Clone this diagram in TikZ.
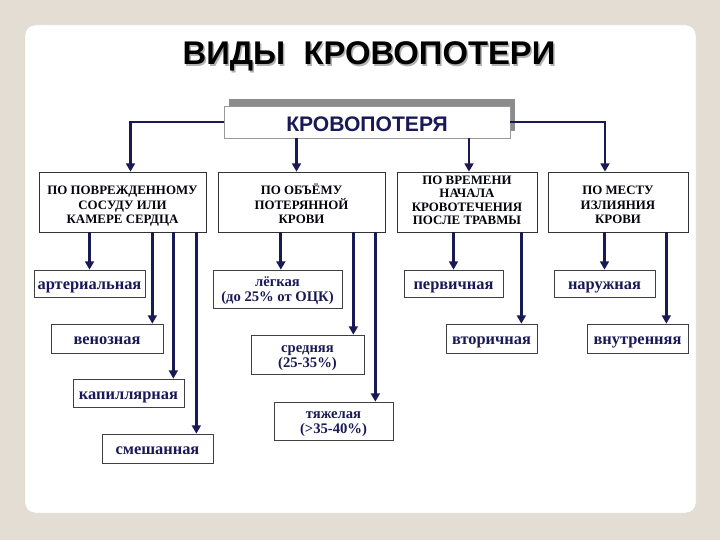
\documentclass[tikz,border=0pt]{standalone}
\usepackage{fontspec}
\setmainfont{Liberation Serif}
\setsansfont{Liberation Sans}
\usepackage{tikz}
\usetikzlibrary{arrows.meta,shadows}
\definecolor{navy}{RGB}{25,25,85}
\definecolor{beige}{RGB}{227,221,211}
\tikzset{
  heading/.style={font=\fontsize{11}{12.4}\selectfont\bfseries, text=black!85!navy,
    draw=black!80, line width=0.6pt, fill=white, inner sep=0pt,
    minimum height=1.8cm, align=center, text height=37pt, text depth=0pt},
  kind/.style={font=\fontsize{14}{15}\selectfont\bfseries, text=navy,
    draw=black!75, line width=0.6pt, fill=white, inner sep=0pt,
    text height=11pt, text depth=0pt},
  share/.style={kind, font=\fontsize{12.5}{13}\selectfont\bfseries, align=center,
    text height=22pt},
  link/.style={draw=navy, line width=2.3pt, -{Triangle[length=7pt,width=7.5pt]}}
}

\begin{document}
\begin{tikzpicture}[x=0.03cm, y=-0.03cm]

		% Slide
		\fill[beige] (0,0) rectangle (720,540);
		\useasboundingbox (0,0) rectangle (720,540);
		\draw[black!12, line width=0.8pt] (32,517) -- (690,517);
		\filldraw[fill=white, draw=black!15, rounded corners=0.3cm] (25,25) rectangle (696,513);

		% Title
		\node[anchor=base, text=black!30, font=\sffamily\bfseries\fontsize{28}{32}\selectfont]
      (title-shadow) at (370.5,66.5) {ВИДЫ~~КРОВОПОТЕРИ};
		\node[anchor=base, font=\sffamily\bfseries\fontsize{28}{32}\selectfont]
      (title) at (369,65) {ВИДЫ~~КРОВОПОТЕРИ};

		% Root
		\node[draw=black!40, fill=white, line width=0.6pt, inner sep=0pt,
      minimum width=8.58cm, minimum height=0.96cm, text height=17pt, text depth=0pt,
      drop shadow={shadow xshift=0.15cm, shadow yshift=0.2cm, fill=black!45, opacity=1},
      text=navy, font=\sffamily\bfseries\fontsize{18}{20}\selectfont]
      (main) at (367,122) {КРОВОПОТЕРЯ};

		% Headings
		\node[heading, minimum width=5.01cm] (b1) at (122.5,202)
      {ПО ПОВРЕЖДЕННОМУ\\СОСУДУ ИЛИ\\КАМЕРЕ СЕРДЦА};
		\node[heading, minimum width=5.01cm] (b2) at (301.5,202)
      {ПО ОБЪЁМУ\\ПОТЕРЯННОЙ\\КРОВИ};
		\node[heading, minimum width=4.2cm, font=\fontsize{11}{11.5}\selectfont\bfseries,
      text height=39pt] (b3) at (467,202)
      {ПО ВРЕМЕНИ\\НАЧАЛА\\КРОВОТЕЧЕНИЯ\\ПОСЛЕ ТРАВМЫ};
		\node[heading, minimum width=4.2cm] (b4) at (618,202)
      {ПО МЕСТУ\\ИЗЛИЯНИЯ\\КРОВИ};

		% Kinds by vessel
		\node[kind, minimum width=3.33cm, minimum height=0.81cm] (art) at (89.5,283.5) {артериальная};
		\node[kind, minimum width=3.36cm, minimum height=0.87cm] (ven) at (107,338.5) {венозная};
		\node[kind, minimum width=3.33cm, minimum height=0.84cm] (cap) at (128.5,393) {капиллярная};
		\node[kind, minimum width=3.33cm, minimum height=0.87cm] (mix) at (157.5,448.5) {смешанная};

		% Kinds by volume
		\node[share, minimum width=3.87cm, minimum height=1.14cm] (mild) at (277.5,289)
      {лёгкая\\(до 25\% от ОЦК)};
		\node[share, minimum width=3.39cm, minimum height=1.17cm] (medium) at (307.5,354.5)
      {средняя\\(25-35\%)};
		\node[share, minimum width=3.57cm, minimum height=1.14cm] (severe) at (333.5,421)
      {тяжелая\\(>35-40\%)};

		% Kinds by time
		\node[kind, minimum width=2.97cm, minimum height=0.81cm] (primary) at (453.5,283.5) {первичная};
		\node[kind, minimum width=2.73cm, minimum height=0.87cm] (secondary) at (491.5,338.5) {вторичная};

		% Kinds by place
		\node[kind, minimum width=3.03cm, minimum height=0.81cm] (outer) at (604.5,283.5) {наружная};
		\node[kind, minimum width=3.03cm, minimum height=0.87cm] (inner) at (637.5,338.5) {внутренняя};

		% Root links
		\draw[link] (main.west) -| ([xshift=0.24cm]b1.north);
		\draw[link] (main.east) -| ([xshift=-0.39cm]b4.north);
		\draw[link] ([xshift=-0.15cm]b2.north |- main.south) -- ([xshift=-0.15cm]b2.north);
		\draw[link] ([xshift=0.06cm]b3.north |- main.south) -- ([xshift=0.06cm]b3.north);

		% Heading links
		\draw[link] (art.north |- b1.south) -- (art.north);
		\draw[link] ([xshift=-0.33cm]ven.north east |- b1.south) -- ([xshift=-0.33cm]ven.north east);
		\draw[link] ([xshift=-0.33cm]cap.north east |- b1.south) -- ([xshift=-0.33cm]cap.north east);
		\draw[link] ([xshift=-0.51cm]mix.north east |- b1.south) -- ([xshift=-0.51cm]mix.north east);

		\draw[link] ([xshift=0.1cm]mild.north |- b2.south) -- ([xshift=0.1cm]mild.north);
		\draw[link] ([xshift=-0.33cm]medium.north east |- b2.south) -- ([xshift=-0.33cm]medium.north east);
		\draw[link] ([xshift=-0.54cm]severe.north east |- b2.south) -- ([xshift=-0.54cm]severe.north east);

		\draw[link] (primary.north |- b3.south) -- (primary.north);
		\draw[link] ([xshift=-0.48cm]secondary.north east |- b3.south) -- ([xshift=-0.48cm]secondary.north east);

		\draw[link] (outer.north |- b4.south) -- (outer.north);
		\draw[link] ([xshift=-0.66cm]inner.north east |- b4.south) -- ([xshift=-0.66cm]inner.north east);

	\end{tikzpicture}
\end{document}
